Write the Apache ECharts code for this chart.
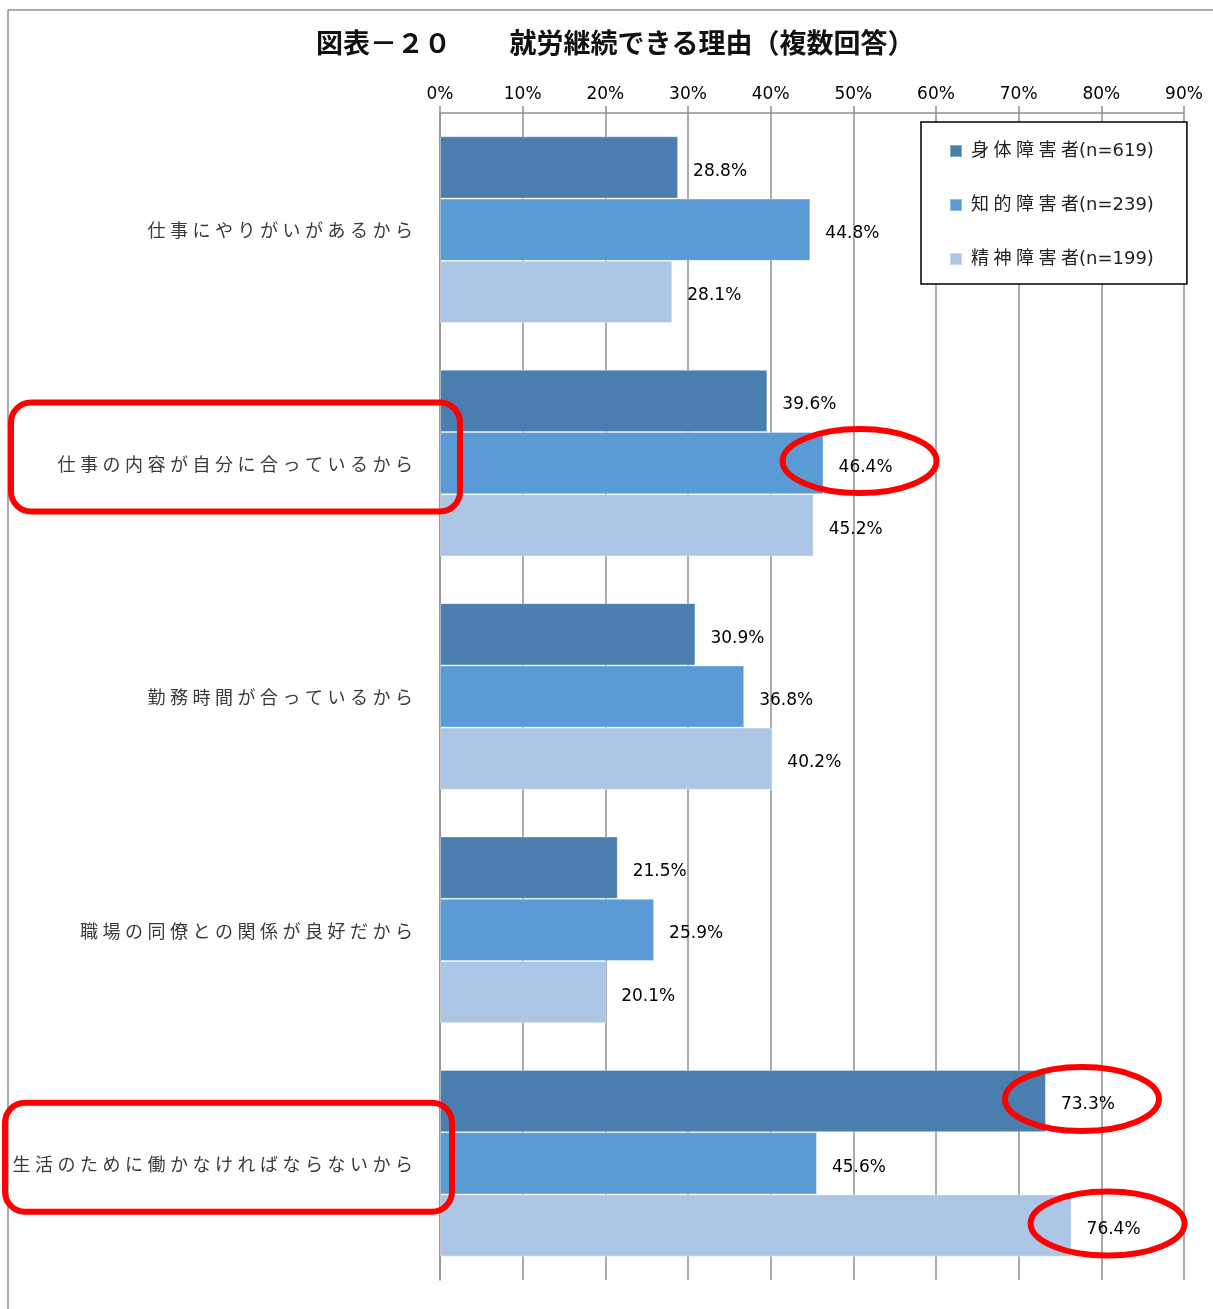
<!DOCTYPE html>
<html>
<head>
<meta charset="utf-8">
<script src="https://cdn.jsdelivr.net/npm/echarts@6/dist/echarts.min.js"></script>
<style>
  html, body { margin: 0; padding: 0; background: #fff; }
  #chart { width: 1213px; height: 1309px; }
</style>
</head>
<body>
<div id="chart"></div>
<script>
// 就労継続できる理由（複数回答）
const categories = [
  '仕事にやりがいがあるから',
  '仕事の内容が自分に合っているから',
  '勤務時間が合っているから',
  '職場の同僚との関係が良好だから',
  '生活のために働かなければならないから'
];
const seriesNames = ['身体障害者(n=619)', '知的障害者(n=239)', '精神障害者(n=199)'];
const physical = [28.8, 39.6, 30.9, 21.5, 73.3];
const intellectual = [44.8, 46.4, 36.8, 25.9, 45.6];
const mental = [28.1, 45.2, 40.2, 20.1, 76.4];
const xTicks = [0, 10, 20, 30, 40, 50, 60, 70, 80, 90];

// highlighted items: [series index, category index]
const circled = [[1, 1], [0, 4], [2, 4]];
const boxedCategories = [1, 4];

const colors = ['#4a7eaf', '#5b9bd5', '#adc6e5'];
const FONT = '"DejaVu Sans", "Noto Sans CJK JP", sans-serif';
const SP = '\u2005';
const spaced = s => Array.from(s).join(SP);

const chart = echarts.init(document.getElementById('chart'));

const values = [physical, intellectual, mental];
const option = {
  animation: false,
  backgroundColor: '#fff',
  title: {
    text: '図表－２０　　\u2006就労継続できる理由（複数回答）',
    left: 311,
    top: 27,
    textStyle: { fontFamily: FONT, fontSize: 27, fontWeight: 'bold', color: '#111' }
  },
  legend: {
    orient: 'vertical',
    left: 921,
    top: 122,
    padding: [20, 33, 16, 28],
    itemGap: 36,
    itemWidth: 12,
    itemHeight: 12,
    icon: 'rect',
    borderColor: '#000',
    borderWidth: 1.5,
    backgroundColor: '#fff',
    textStyle: { fontFamily: FONT, fontSize: 18, color: '#222', padding: [0, 0, 0, 4] },
    formatter: name => {
      const i = name.indexOf('(');
      return spaced(name.slice(0, i)) + name.slice(i);
    },
    data: seriesNames
  },
  grid: { left: 440, right: 29, top: 113, bottom: 29, containLabel: false },
  xAxis: {
    type: 'value',
    position: 'top',
    min: 0,
    max: 90,
    interval: 10,
    axisLine: { show: true, lineStyle: { color: '#8f8f8f', width: 1.5 } },
    axisTick: { show: true, length: 7, lineStyle: { color: '#8f8f8f', width: 1.5 } },
    splitLine: { show: true, lineStyle: { color: '#8f8f8f', width: 1.5 } },
    axisLabel: {
      margin: 10,
      fontFamily: FONT,
      fontSize: 17,
      color: '#000',
      formatter: v => (xTicks.includes(v) ? v + '%' : '')
    }
  },
  yAxis: {
    type: 'category',
    inverse: true,
    data: categories,
    axisLine: { show: true, lineStyle: { color: '#8f8f8f', width: 1.5 } },
    axisTick: { show: false },
    axisLabel: {
      margin: 27,
      formatter: v => '{c|' + spaced(v) + '}',
      rich: {
        c: { fontFamily: FONT, fontSize: 18, color: '#3a3a3a', padding: [6, 0, 0, 0] }
      }
    }
  },
  series: seriesNames.map((name, i) => ({
    name,
    type: 'bar',
    data: values[i],
    barGap: '0%',
    barCategoryGap: '20%',
    itemStyle: { color: colors[i], borderColor: 'rgba(255,255,255,0.35)', borderWidth: 1 },
    label: {
      show: true,
      position: 'right',
      distance: 15,
      offset: [0, 4],
      fontFamily: FONT,
      fontSize: 17,
      color: '#000',
      formatter: p => p.value.toFixed(1) + '%'
    }
  }))
};
chart.setOption(option);

// Red highlight marks placed from the axes' own scales
const toPx = (v, c) => chart.convertToPixel({ gridIndex: 0 }, [v, categories[c]]);
const band = toPx(0, 1)[1] - toPx(0, 0)[1];
const barH = band * 0.8 / 3;
const axisX = toPx(0, 0)[0];
const red = { stroke: '#ff0000', lineWidth: 6, fill: 'none' };

const graphics = [
  // outer frame edges
  { type: 'line', shape: { x1: 8, y1: 10, x2: 1213, y2: 10 }, style: { stroke: '#8f8f8f', lineWidth: 1.5 }, z: 1 },
  { type: 'line', shape: { x1: 8, y1: 10, x2: 8, y2: 1309 }, style: { stroke: '#8f8f8f', lineWidth: 1.5 }, z: 1 }
];

circled.forEach(([s, c]) => {
  const p = toPx(values[s][c], c);
  const cy = p[1] - band * 0.4 + barH * (s + 0.5) - 2;
  graphics.push({ type: 'ellipse', shape: { cx: p[0] + 36, cy, rx: 77, ry: 32 }, style: red, z: 100 });
});

const boxInset = { 1: [11, 20], 4: [5, 12] };
boxedCategories.forEach(c => {
  const cy = toPx(0, c)[1] - 6;
  const [left, over] = boxInset[c];
  graphics.push({
    type: 'rect',
    shape: { x: left, y: cy - 54.5, width: axisX + over - left, height: 109, r: 20 },
    style: red,
    z: 100
  });
});

chart.setOption({ graphic: graphics });
</script>
</body>
</html>
